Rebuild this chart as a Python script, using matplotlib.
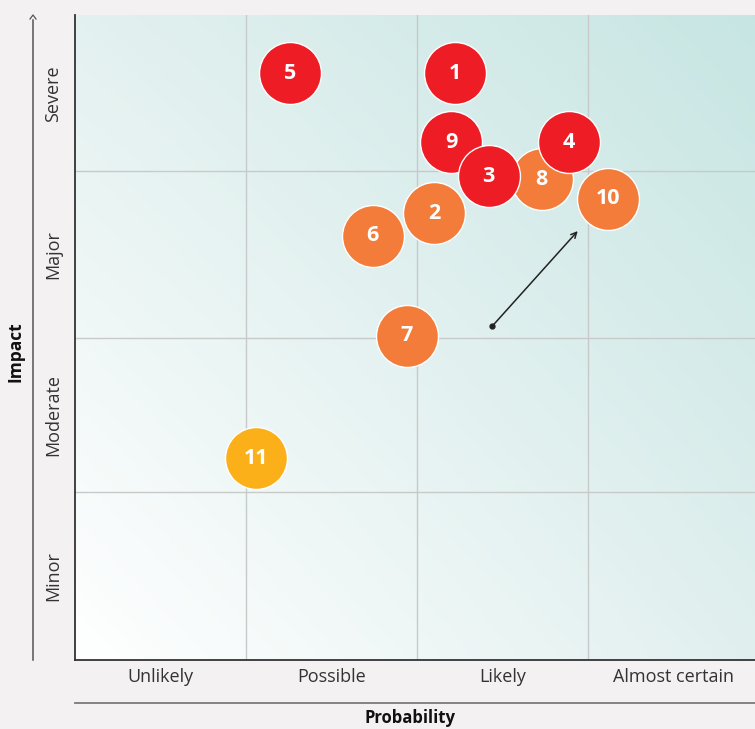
import numpy as np
import matplotlib.pyplot as plt

plt.rcParams['font.family'] = ['Open Sans', 'DejaVu Sans']

# risk register: id, probability position, impact position, rating
risk_ids = ['1', '2', '3', '4', '5', '6', '7', '8', '9', '10', '11']
probability = [2.22, 2.10, 2.42, 2.89, 1.26, 1.74, 1.94, 2.73, 2.20, 3.12, 1.06]
impact = [3.64, 2.77, 3.00, 3.21, 3.64, 2.63, 2.01, 2.98, 3.21, 2.86, 1.25]
rating = ['high', 'med', 'high', 'high', 'high', 'med', 'med', 'med', 'high', 'med', 'low']

prob_labels = ['Unlikely', 'Possible', 'Likely', 'Almost certain']
impact_labels = ['Minor', 'Moderate', 'Major', 'Severe']
impact_edges = [0, 1.04, 2.0, 3.03, 4.0]

# movement of a risk since last review
move_from = (2.44, 2.07)
move_to = (2.94, 2.66)

colors = {'high': '#ee1c25', 'med': '#f37c3a', 'low': '#fbb01a'}
draw_order = [0, 4, 10, 1, 5, 6, 7, 9, 8, 2, 3]

fig = plt.figure(figsize=(7.55, 7.29), dpi=100)
fig.patch.set_facecolor('#f3f1f1')
ax = fig.add_axes([75 / 755, 69 / 729, 680 / 755, 645 / 729])
ax.set_xlim(0, 3.977)
ax.set_ylim(0, 4)

# diagonal background wash
nx, ny = 200, 200
u = np.linspace(0, 1, nx)[None, :]
v = np.linspace(0, 1, ny)[:, None]
bl = np.array([1.0, 1.0, 1.0])
br = np.array([0.88, 0.94, 0.935])
tl = np.array([0.89, 0.945, 0.94])
tr = np.array([0.78, 0.90, 0.89])
img = ((1 - u) * (1 - v))[..., None] * bl + (u * (1 - v))[..., None] * br \
    + ((1 - u) * v)[..., None] * tl + (u * v)[..., None] * tr
ax.imshow(img, origin='lower', extent=[0, 3.977, 0, 4], aspect='auto', zorder=0)

for xg in [1, 2, 3]:
    ax.axvline(xg, color='#c8caca', lw=1.0, zorder=1)
for yg in impact_edges[1:-1]:
    ax.axhline(yg, color='#c8caca', lw=1.0, zorder=1)

for i in draw_order:
    ax.scatter(probability[i], impact[i], s=1990, color=colors[rating[i]],
               edgecolor='white', linewidth=1.0, zorder=3)
    ax.text(probability[i], impact[i], risk_ids[i], color='white', fontsize=15.5,
            fontweight='bold', ha='center', va='center', zorder=4)

ax.plot(*move_from, 'o', color='#222222', ms=3.5, zorder=2)
ax.annotate('', xy=move_to, xytext=move_from,
            arrowprops=dict(arrowstyle='->', color='#222222', lw=1.1,
                            shrinkA=0, shrinkB=0), zorder=2)

for side in ['top', 'right']:
    ax.spines[side].set_visible(False)
ax.spines['left'].set_color('#333333')
ax.spines['bottom'].set_color('#333333')
ax.spines['left'].set_linewidth(1.3)
ax.spines['bottom'].set_linewidth(1.3)

ax.set_xticks([0.5, 1.5, 2.5, 3.5])
ax.set_xticklabels(prob_labels, fontsize=13, color='#333333')
ax.set_yticks([(impact_edges[k] + impact_edges[k + 1]) / 2 for k in range(4)])
ax.set_yticklabels(impact_labels, fontsize=13, color='#333333', rotation=90,
                   va='center')
ax.tick_params(length=0, pad=6)
ax.tick_params(axis='y', pad=9)

# outer axis guides
fig.add_artist(plt.Line2D([75 / 755, 1], [1 - 703 / 729] * 2, color='#7a7a7a', lw=1.3))
fig.add_artist(plt.Line2D([33 / 755] * 2, [1 - 660 / 729, 1 - 20 / 729],
                          color='#555555', lw=1.1))
fig.add_artist(plt.Line2D([30 / 755, 33 / 755, 36 / 755],
                          [1 - 19 / 729, 1 - 15 / 729, 1 - 19 / 729],
                          color='#555555', lw=0.9))
fig.text(15 / 755, 1 - 352 / 729, 'Impact', rotation=90, fontsize=12.5,
         fontweight='bold', ha='center', va='center', color='#111111')
fig.text(410 / 755, 1 - 718 / 729, 'Probability', fontsize=12,
         fontweight='bold', ha='center', va='center', color='#111111')

fig.savefig('out.png', dpi=100, facecolor=fig.get_facecolor())
